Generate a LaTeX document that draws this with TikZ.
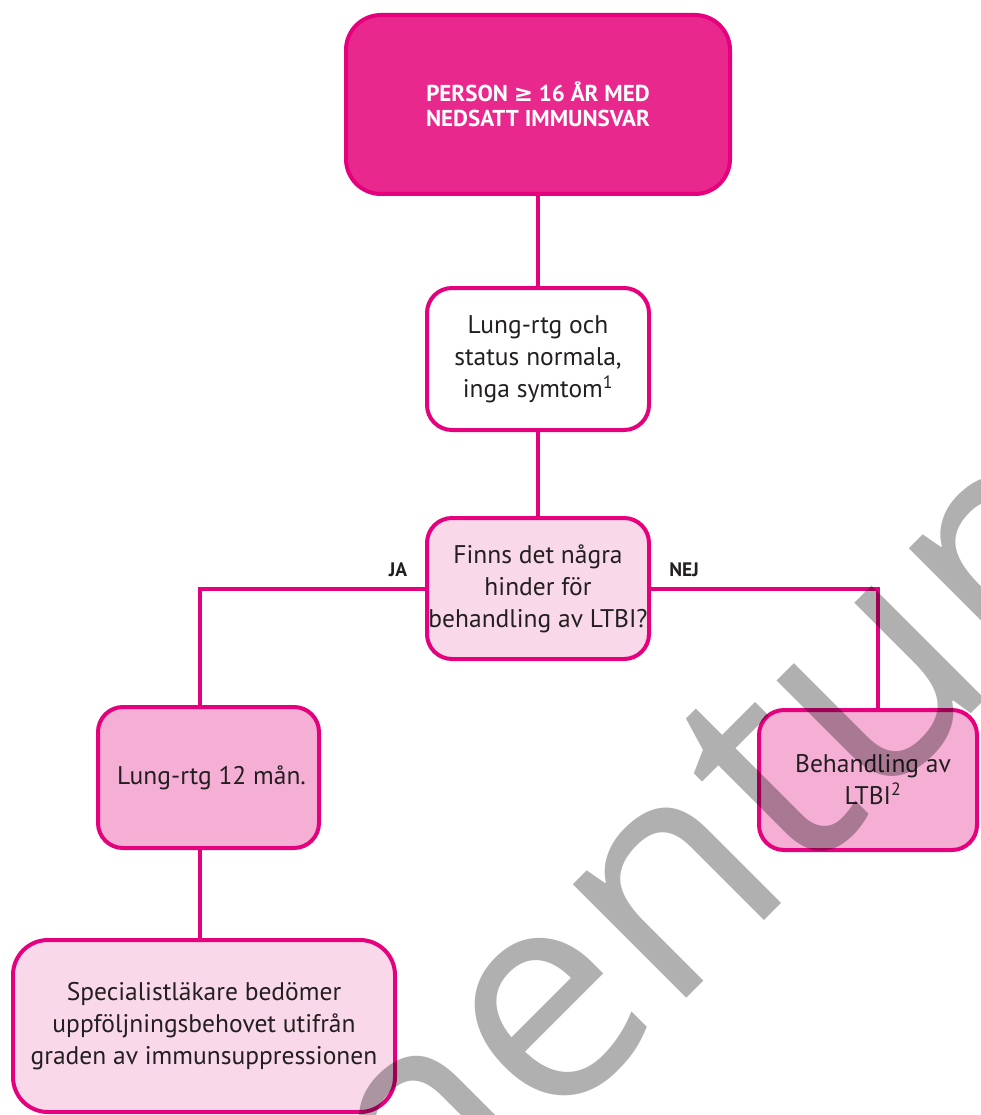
\documentclass[tikz,border=0pt]{standalone}
\usepackage{fontspec}
\usetikzlibrary{backgrounds}
\setmainfont{PT Sans}
\newfontfamily\wmfont{Open Sans}
\newfontfamily\symfont{DejaVu Sans}
\definecolor{lineMag}{RGB}{229,0,125}
\definecolor{topPink}{RGB}{232,40,140}
\definecolor{lightPink}{RGB}{249,216,233}
\definecolor{midPink}{RGB}{245,175,212}
\definecolor{textCol}{RGB}{35,31,32}
\begin{document}
\begin{tikzpicture}[x=1pt,y=-1pt,
  box/.style={draw=lineMag, line width=4pt, rounded corners=25pt,
    align=center, inner sep=0pt, text=textCol,
    font=\fontsize{25.5}{32}\selectfont},
  link/.style={draw=lineMag, line width=4pt},
  answer/.style={font=\bfseries\fontsize{19.5}{20}\selectfont, text=textCol, inner sep=0pt}]
\useasboundingbox (0,0) rectangle (980,1115);

\node[box, fill=topPink, minimum width=384pt, minimum height=179pt,
  rounded corners=35pt, text=white,
  font=\bfseries\fontsize{23}{25}\selectfont] (top) at (538,104.5)
  {PERSON {\symfont ≥} 16 ÅR MED\\NEDSATT IMMUNSVAR};
\node[box, fill=white, minimum width=222pt, minimum height=142pt] (status) at (538,359)
  {Lung-rtg och\\status normala,\\inga symtom\textsuperscript{1}};
\node[box, fill=lightPink, minimum width=222pt, minimum height=141pt] (hinder) at (538,588.5)
  {Finns det några\\hinder för\\behandling av LTBI?};
\node[box, fill=midPink, minimum width=221pt, minimum height=141pt] (rtg) at (208.5,777.5)
  {\hspace*{6pt}Lung-rtg 12 mån.};
\node[box, fill=midPink, minimum width=218pt, minimum height=140pt] (ltbi) at (868,780)
  {\hspace*{10pt}Behandling av\\\hspace*{10pt}LTBI\textsuperscript{2}};
\node[box, fill=lightPink, minimum width=382pt, minimum height=172pt,
  rounded corners=35pt] (spec) at (204,1026)
  {Specialistläkare bedömer\\uppföljningsbehovet utifrån\\graden av immunsuppressionen};

% connectors sit behind the boxes
\begin{scope}[on background layer]
  \draw[link] (top.south) -- (status.north);
  \draw[link] (status.south) -- (hinder.north);
  \draw[link] (hinder.west) -| ([xshift=-8.5pt]rtg.north);
  \draw[link] ([xshift=-8.5pt]rtg.south) -- ([xshift=-8.5pt]rtg.south |- spec.north);
  \draw[link] (hinder.east) -| ([xshift=10pt]ltbi.north);
\end{scope}

\node[answer] (ja) at (398,570) {JA};
\node[answer] (nej) at (684,570) {NEJ};

% diagonal watermark
\begin{scope}
  \clip (0,0) rectangle (980,1115);
  \node[rotate=45, anchor=base, inner sep=0pt, text=black, text opacity=0.31,
    font=\wmfont\fontsize{300}{300}\selectfont] (wm) at (777,908) {mentum};
\end{scope}
\end{tikzpicture}
\end{document}
